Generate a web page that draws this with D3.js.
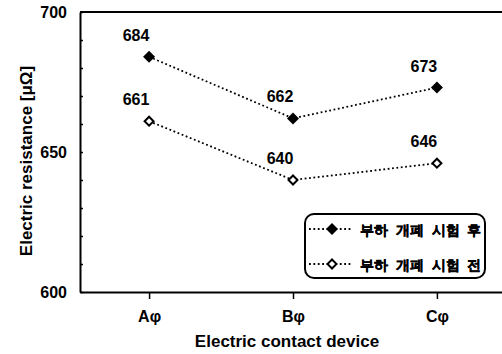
<!DOCTYPE html>
<html>
<head>
<meta charset="utf-8">
<script src="https://cdn.jsdelivr.net/npm/d3@7"></script>
<style>
  html, body { margin: 0; padding: 0; background: #fff; }
  svg { display: block; }
  text { font-family: "Liberation Sans", Arial, sans-serif; fill: #000; }
</style>
</head>
<body>
<svg id="chart" width="502" height="354"></svg>
<script>
// Contact resistance per phase, before and after the load switching test
const devices = ["Aφ", "Bφ", "Cφ"];
const afterTest = [684, 662, 673];   // 부하 개폐 시험 후
const beforeTest = [661, 640, 646];  // 부하 개폐 시험 전
const seriesNames = ["부하 개폐 시험 후", "부하 개폐 시험 전"];
const yTicks = [600, 610, 620, 630, 640, 650, 660, 670, 680, 690, 700];
const yLabels = [600, 650, 700];

const svg = d3.select("#chart");
const plotLeft = 80, plotRight = 506, plotTop = 12, plotBottom = 292;

const x = d3.scalePoint().domain(devices).range([plotLeft, plotRight]).padding(0.48);
const y = d3.scaleLinear().domain([600, 700]).range([plotBottom, plotTop]);

// Frame: top line, left axis, bottom axis
svg.append("line").attr("x1", plotLeft).attr("x2", plotRight).attr("y1", plotTop).attr("y2", plotTop)
  .attr("stroke", "#000").attr("stroke-width", 2);

const yAxis = d3.axisLeft(y)
  .tickValues(yTicks)
  .tickSizeInner(-3)
  .tickSizeOuter(0)
  .tickPadding(13)
  .tickFormat(d => yLabels.includes(d) ? d : "");
const gy = svg.append("g").attr("transform", `translate(${plotLeft},0)`).call(yAxis);
gy.select(".domain").attr("stroke-width", 2);
gy.selectAll(".tick line").attr("stroke-width", 1.5);
gy.selectAll(".tick text").attr("font-size", 16).attr("font-weight", "bold")
  .attr("font-family", "Liberation Sans, Arial, sans-serif").attr("dy", "0.36em");

const xAxis = d3.axisBottom(x).tickSizeInner(7).tickSizeOuter(0).tickPadding(12);
const gx = svg.append("g").attr("transform", `translate(0,${plotBottom})`).call(xAxis);
gx.select(".domain").attr("stroke-width", 2);
gx.selectAll(".tick line").attr("stroke-width", 1.5);
gx.selectAll(".tick text").attr("font-size", 16).attr("font-weight", "bold")
  .attr("font-family", "Liberation Sans, Arial, sans-serif");

// Axis titles
svg.append("text")
  .attr("x", (plotLeft + 502) / 2 - 4).attr("y", 347)
  .attr("text-anchor", "middle").attr("font-size", 17).attr("font-weight", "bold")
  .text("Electric contact device");
svg.append("text")
  .attr("transform", `translate(32,${(plotTop + plotBottom) / 2 + 9}) rotate(-90)`)
  .attr("text-anchor", "middle").attr("font-size", 17).attr("font-weight", "bold")
  .text("Electric resistance [μΩ]");

// Series
const series = [
  { name: seriesNames[0], values: afterTest, filled: true },
  { name: seriesNames[1], values: beforeTest, filled: false }
];
const line = d3.line().x((d, i) => x(devices[i])).y(d => y(d));
const filledDiamond = d3.symbol().type(d3.symbolSquare).size(72);
const openDiamond = d3.symbol().type(d3.symbolSquare).size(40);

series.forEach(s => {
  svg.append("path").datum(s.values).attr("d", line)
    .attr("fill", "none").attr("stroke", "#000").attr("stroke-width", 1.8)
    .attr("stroke-dasharray", "1.8,2.6");
  svg.selectAll(null).data(s.values).enter().append("path")
    .attr("d", s.filled ? filledDiamond : openDiamond)
    .attr("transform", (d, i) => `translate(${x(devices[i])},${y(d)}) rotate(45)`)
    .attr("fill", s.filled ? "#000" : "#fff")
    .attr("stroke", "#000").attr("stroke-width", s.filled ? 0 : 2);
  svg.selectAll(null).data(s.values).enter().append("text")
    .attr("x", (d, i) => x(devices[i]) - 13).attr("y", d => y(d) - 16)
    .attr("text-anchor", "middle").attr("font-size", 16).attr("font-weight", "bold")
    .text(d => d);
});

// Legend
const lg = svg.append("g");
const box = { x: 305, y: 214, w: 180, h: 64 };
svg.append("clipPath").attr("id", "legclip").append("rect")
  .attr("x", box.x).attr("y", box.y).attr("width", box.w).attr("height", box.h);
lg.append("rect").attr("x", box.x).attr("y", box.y).attr("width", box.w).attr("height", box.h)
  .attr("rx", 9).attr("ry", 9).attr("fill", "#fff");
const rows = [229, 264];
series.forEach((s, i) => {
  const ry = rows[i];
  lg.append("line").attr("x1", 309).attr("x2", 351).attr("y1", ry).attr("y2", ry)
    .attr("stroke", "#000").attr("stroke-width", 1.8).attr("stroke-dasharray", "1.8,2.6");
  lg.append("path").attr("d", s.filled ? filledDiamond : openDiamond)
    .attr("transform", `translate(332,${ry}) rotate(45)`)
    .attr("fill", s.filled ? "#000" : "#fff")
    .attr("stroke", "#000").attr("stroke-width", s.filled ? 0 : 2);
  lg.append("text").attr("x", 360).attr("y", ry + 5.5)
    .attr("clip-path", "url(#legclip)")
    .attr("font-family", "Noto Sans CJK KR, sans-serif")
    .attr("font-size", 13.5).attr("font-weight", 900).attr("word-spacing", 4)
    .attr("stroke", "#000").attr("stroke-width", 0.4)
    .text(s.name);
});
lg.append("rect").attr("x", box.x).attr("y", box.y).attr("width", box.w).attr("height", box.h)
  .attr("rx", 9).attr("ry", 9).attr("fill", "none").attr("stroke", "#000").attr("stroke-width", 2);
</script>
</body>
</html>
